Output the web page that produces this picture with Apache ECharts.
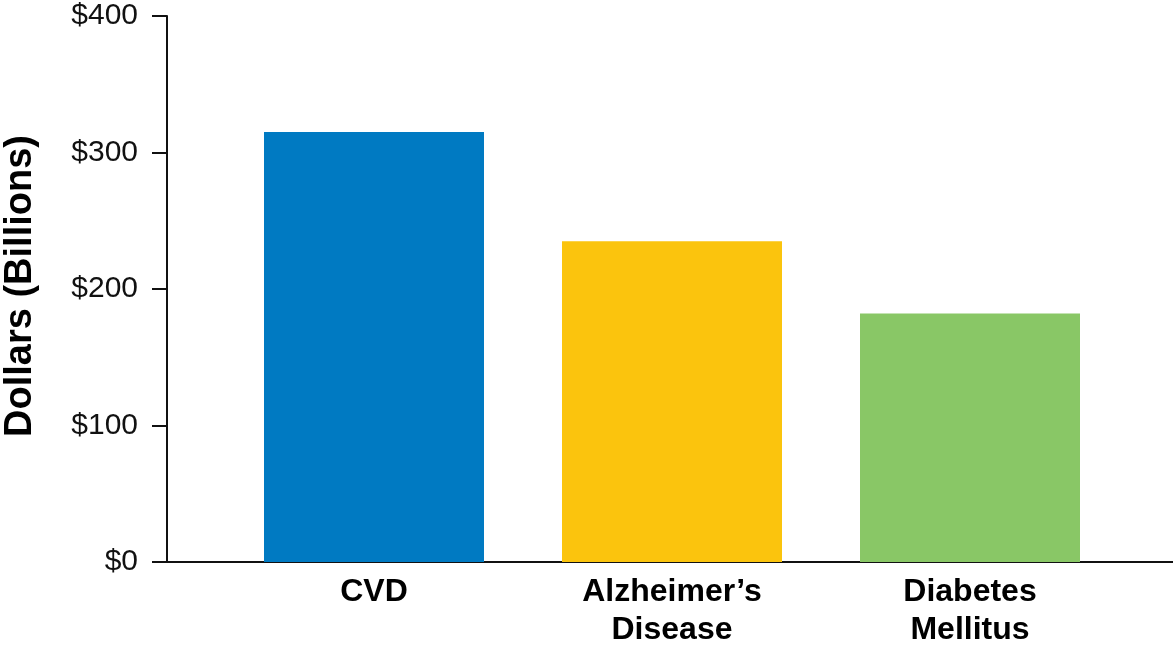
<!DOCTYPE html>
<html>
<head>
<meta charset="utf-8">
<script src="https://cdn.jsdelivr.net/npm/echarts@6/dist/echarts.min.js"></script>
<style>
  html, body { margin: 0; padding: 0; background: #fff; }
  #main { width: 1173px; height: 645px; }
</style>
</head>
<body>
<div id="main"></div>
<script>
// values (billions of dollars)
var categories = ['CVD', 'Alzheimer\u2019s\nDisease', 'Diabetes\nMellitus'];
var costs = [315, 235, 182];
var barColors = ['#007AC2', '#FBC40D', '#89C766'];
var yTicks = [0, 100, 200, 300, 400];

var chart = echarts.init(document.getElementById('main'));

var font = 'Liberation Sans, Arial, Helvetica, sans-serif';

var option = {
    animation: false,
    backgroundColor: '#fff',
    grid: [
        // full-width grid: carries the y axis and the long x baseline
        { left: 167, right: 0, top: 16, bottom: 83, outerBoundsMode: 'none' },
        // inner grid: where the category bands sit
        { left: 225, right: 54, top: 16, bottom: 83, outerBoundsMode: 'none' }
    ],
    xAxis: [{
        gridIndex: 0,
        type: 'value',
        min: 0,
        max: 1,
        axisLine: { show: true, lineStyle: { color: '#111', width: 2 } },
        axisTick: { show: false },
        axisLabel: { show: false },
        splitLine: { show: false }
    }, {
        gridIndex: 1,
        type: 'category',
        data: categories,
        axisLine: { show: false },
        axisTick: { show: false },
        axisLabel: {
            margin: 11,
            color: '#000',
            fontFamily: font,
            fontWeight: 'bold',
            fontSize: 32,
            lineHeight: 38
        }
    }],
    yAxis: [{
        gridIndex: 0,
        type: 'value',
        min: yTicks[0],
        max: yTicks[yTicks.length - 1],
        interval: 100,
        name: 'Dollars (Billions)',
        nameLocation: 'middle',
        nameGap: 127,
        nameTextStyle: {
            color: '#000',
            fontFamily: font,
            fontWeight: 'bold',
            fontSize: 38,
            padding: [0, 0, 0, 6]
        },
        axisLine: { show: true, lineStyle: { color: '#111', width: 2 } },
        axisTick: { show: true, length: 15, lineStyle: { color: '#111', width: 2 } },
        axisLabel: {
            margin: 29,
            color: '#111',
            fontFamily: font,
            fontSize: 30,
            formatter: function(v) { return '$' + v; }
        },
        splitLine: { show: false }
    }, {
        gridIndex: 1,
        type: 'value',
        min: yTicks[0],
        max: yTicks[yTicks.length - 1],
        show: false
    }],
    series: [{
        type: 'bar',
        xAxisIndex: 1,
        yAxisIndex: 1,
        barWidth: 220,
        data: costs.map(function(v, i) {
            return { value: v, itemStyle: { color: barColors[i] } };
        })
    }]
};

chart.setOption(option);
</script>
</body>
</html>
